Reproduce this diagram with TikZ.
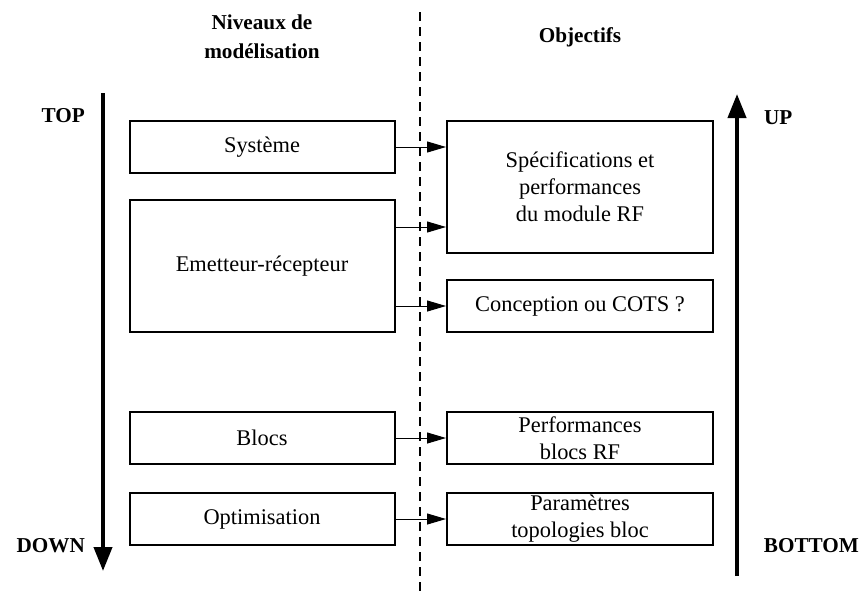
\documentclass[tikz,border=0pt]{standalone}
\usepackage{fontspec}
\setmainfont{Liberation Serif}
\usetikzlibrary{arrows.meta}

\begin{document}
\begin{tikzpicture}[x=0.5pt,y=-0.5pt,font=\fontsize{11.2}{13.5}\selectfont]
\useasboundingbox (0,0) rectangle (865,595);

% column titles
\begin{scope}[every node/.style={align=center,font=\fontsize{10.6}{14.5}\selectfont\bfseries}]
    \node (titleL) at (262,37) {Niveaux de\\modélisation};
    \node (titleR) at (580,37) {Objectifs};
    \node[anchor=east] (top) at (92,116) {TOP};
    \node[anchor=east] (down) at (92,546) {DOWN};
    \node[anchor=west] (up) at (757,118) {UP};
    \node[anchor=east] (bottom) at (866,546) {BOTTOM};
\end{scope}

% modelling levels
\begin{scope}[every node/.style={rectangle,draw,line width=1pt,align=center,
              minimum width=132.5pt,inner sep=0pt}]
    \node[minimum height=26pt] (sys) at (262,147) {Système};
    \node[minimum height=66pt] (emr) at (262,266) {Emetteur-récepteur};
    \node[minimum height=26pt] (blocs) at (262,438) {Blocs};
    \node[minimum height=26pt] (optim) at (262,519) {Optimisation};
\end{scope}

% objectives
\begin{scope}[every node/.style={rectangle,draw,line width=1pt,align=center,
              minimum width=133pt,inner sep=0pt}]
    \node[minimum height=66pt] (spec) at (580,187) {Spécifications et\\performances\\du module RF};
    \node[minimum height=26pt] (cots) at (580,306) {Conception ou COTS ?};
    \node[minimum height=26pt] (perf) at (580,438) {Performances\\blocs RF};
    \node[minimum height=26pt] (param) at (580,519) {Paramètres\\topologies bloc};
\end{scope}

\coordinate (e1) at (emr.east |- 0,227);
\coordinate (e2) at (emr.east |- cots.west);
\coordinate (dashtop) at (420,12);
\coordinate (dashbot) at (420,593);
\coordinate (downA) at (103,93);
\coordinate (downB) at (103,571);
\coordinate (upA) at (737,576);
\coordinate (upB) at (737,94);

% separator
\draw[line width=0.65pt,dash pattern=on 4.5pt off 3pt] (dashtop) -- (dashbot);

% links
\begin{scope}[>={Triangle[length=9.5pt,width=5.5pt]},line width=0.5pt]
    \draw[->] (sys.east) -- (sys.east -| spec.west);
    \draw[->] (e1) -- (e1 -| spec.west);
    \draw[->] (e2) -- (cots.west);
    \draw[->] (blocs.east) -- (perf.west);
    \draw[->] (optim.east) -- (param.west);
\end{scope}

% top-down / bottom-up
\begin{scope}[>={Triangle[length=12pt,width=9pt]},line width=2pt]
    \draw[->] (downA) -- (downB);
    \draw[->] (upA) -- (upB);
\end{scope}
\end{tikzpicture}
\end{document}
